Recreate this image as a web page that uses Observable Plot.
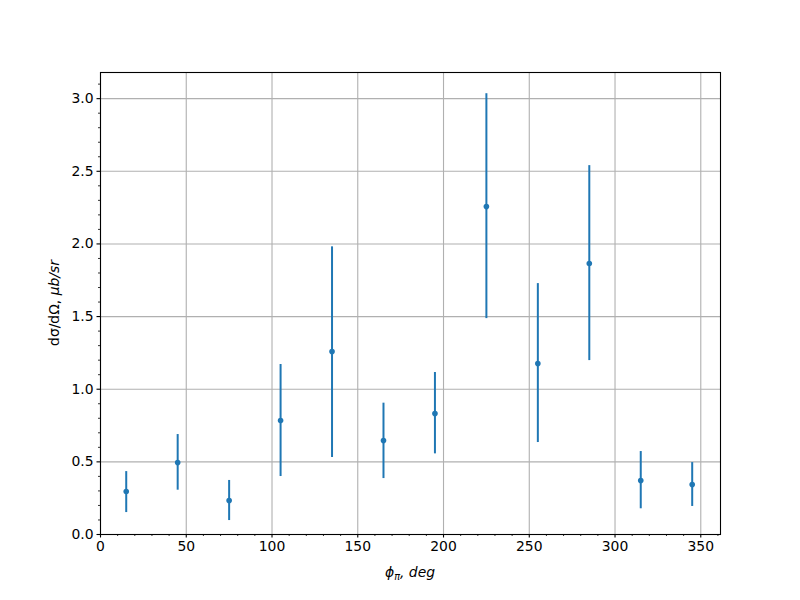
<!DOCTYPE html>
<html>
<head>
<meta charset="utf-8">
<script src="https://cdn.jsdelivr.net/npm/d3@7"></script>
<script src="https://cdn.jsdelivr.net/npm/@observablehq/plot@0.6"></script>
<style>
  html, body { margin: 0; padding: 0; background: #fff; }
  #chart { width: 800px; height: 600px; }
  svg { font-family: "DejaVu Sans", sans-serif; }
</style>
</head>
<body>
<div id="chart"></div>
<script>
const phi = [15, 45, 75, 105, 135, 165, 195, 225, 255, 285, 315, 345];
const sigma = [0.296, 0.495, 0.234, 0.784, 1.26, 0.647, 0.833, 2.257, 1.177, 1.865, 0.372, 0.344];
const errLow = [0.145, 0.19, 0.138, 0.385, 0.73, 0.262, 0.278, 0.771, 0.544, 0.668, 0.195, 0.151];
const errHigh = [0.137, 0.193, 0.138, 0.386, 0.72, 0.257, 0.282, 0.777, 0.55, 0.674, 0.199, 0.151];
const xMajor = [0, 50, 100, 150, 200, 250, 300, 350];
const yMajor = [0, 0.5, 1.0, 1.5, 2.0, 2.5, 3.0];

const data = phi.map((p, i) => ({phi: p, s: sigma[i], lo: sigma[i] - errLow[i], hi: sigma[i] + errHigh[i]}));
const xMinor = d3.range(10, 361, 10).filter(v => v % 50 !== 0);
const yMinor = d3.range(1, 32).map(v => v / 10).filter(v => Math.round(v * 10) % 5 !== 0);

const blue = "#1f77b4";
const grid = {stroke: "#b0b0b0", strokeOpacity: 1, strokeWidth: 1.1};

const plot = Plot.plot({
  width: 800,
  height: 600,
  marginLeft: 100,
  marginRight: 80,
  marginTop: 72,
  marginBottom: 66,
  style: {fontFamily: "DejaVu Sans, sans-serif", fontSize: "13.9px", color: "#000", background: "#fff"},
  x: {domain: [0, 361.5], label: null},
  y: {domain: [0, 3.18], label: null},
  marks: [
    Plot.gridX(xMajor, grid),
    Plot.gridY(yMajor, grid),
    Plot.axisX(xMajor, {tickSize: 3.5, tickPadding: 3.5, tickFormat: d3.format("d"), fontSize: 13.9, strokeWidth: 1.1, label: null}),
    Plot.axisX(xMinor, {tickSize: 2, tickFormat: () => "", strokeWidth: 0.8, label: null}),
    Plot.axisY(yMajor, {tickSize: 3.5, tickPadding: 3.5, tickFormat: d3.format(".1f"), fontSize: 13.9, strokeWidth: 1.1, label: null}),
    Plot.axisY(yMinor, {tickSize: 2, tickFormat: () => "", strokeWidth: 0.8, label: null}),
    Plot.ruleX(data, {x: "phi", y1: "lo", y2: "hi", stroke: blue, strokeWidth: 2}),
    Plot.dot(data, {x: "phi", y: "s", r: 2.8, fill: blue, stroke: "none"}),
    Plot.frame({stroke: "#000", strokeWidth: 1.1})
  ]
});

const svg = d3.select(plot);
// x label: φ_π, deg (italic)
const xl = svg.append("text")
  .attr("x", 410).attr("y", 577)
  .attr("text-anchor", "middle")
  .attr("font-size", "13.9px")
  .attr("font-family", "DejaVu Sans, sans-serif")
  .attr("fill", "#000");
xl.append("tspan").attr("font-style", "italic").text("ϕ");
xl.append("tspan").attr("font-style", "italic").attr("font-size", "9.7px").attr("dy", 3).text("π");
xl.append("tspan").attr("font-style", "italic").attr("dy", -3).text(", deg");

// y label: dσ/dΩ, μb/sr
const yl = svg.append("text")
  .attr("transform", "translate(59,303) rotate(-90)")
  .attr("text-anchor", "middle")
  .attr("font-size", "13.9px")
  .attr("font-family", "DejaVu Sans, sans-serif")
  .attr("fill", "#000");
yl.append("tspan").text("dσ/dΩ, ");
yl.append("tspan").attr("font-style", "italic").text("μb/sr");

document.getElementById("chart").appendChild(plot);
</script>
</body>
</html>
